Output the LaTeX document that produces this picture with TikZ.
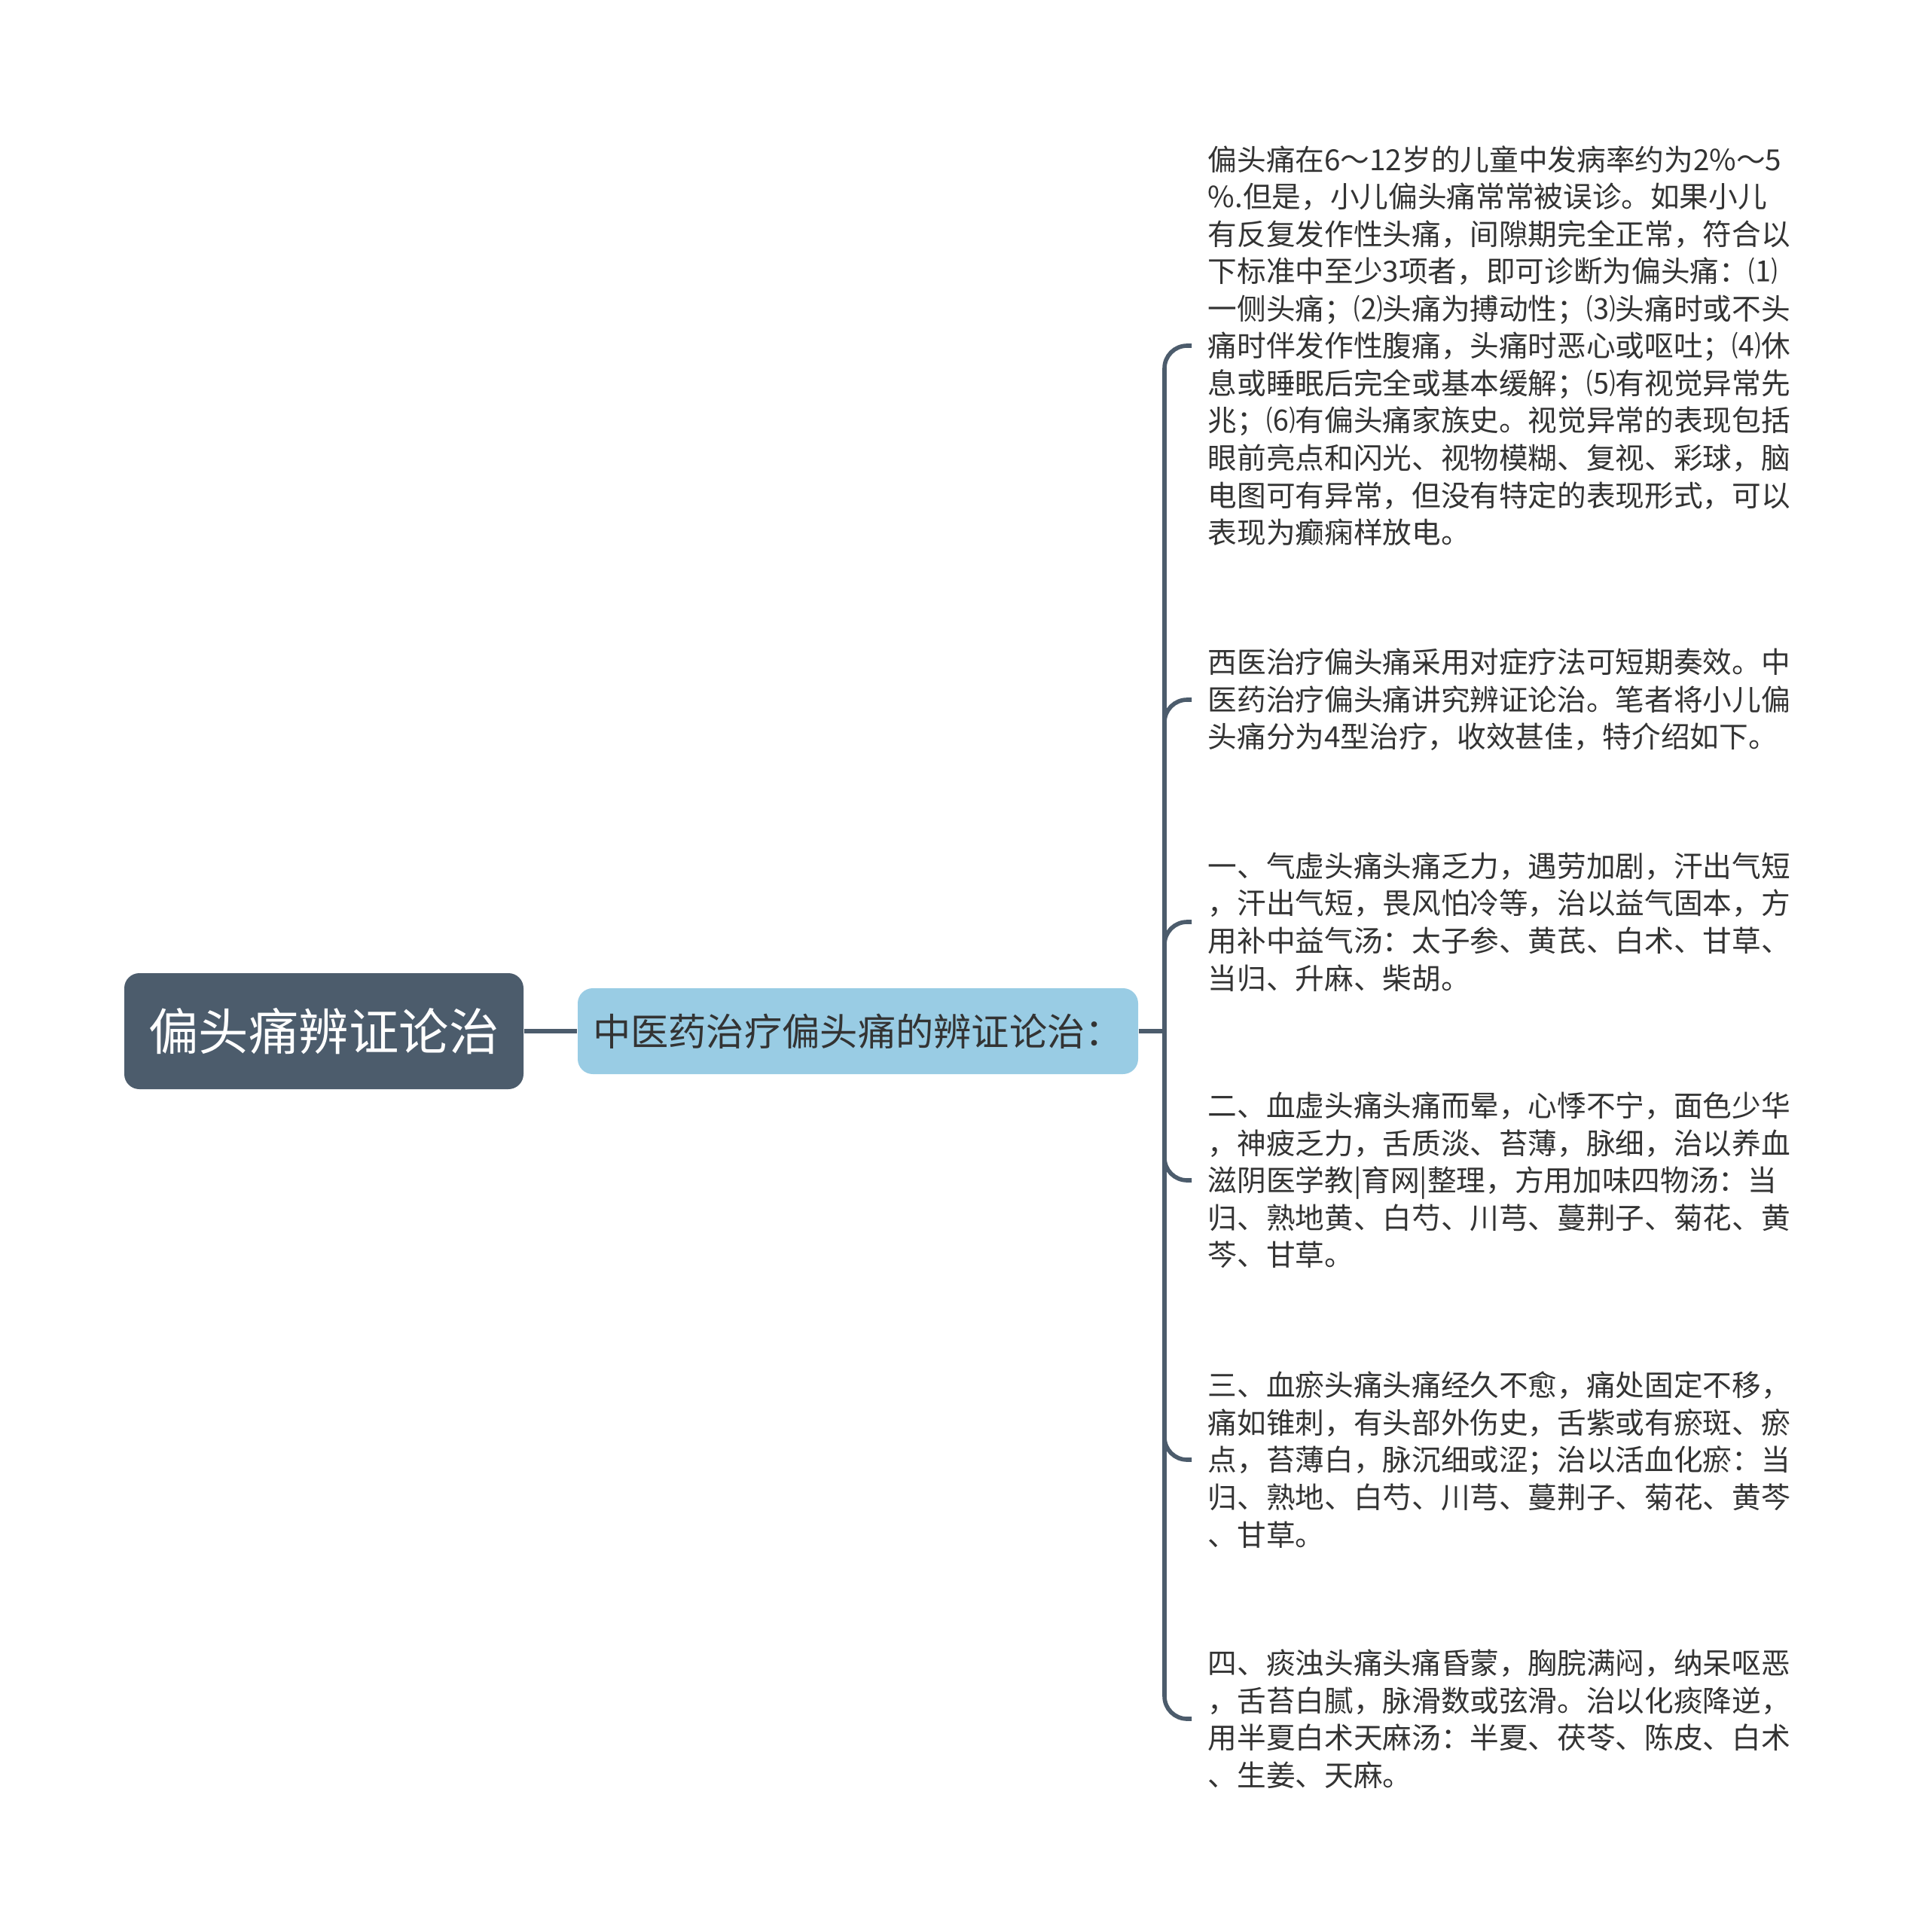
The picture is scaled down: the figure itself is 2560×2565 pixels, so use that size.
\documentclass[tikz,border=0pt]{standalone}
\usepackage{fontspec}
\setmainfont{Noto Sans CJK SC}
\usepackage{xcolor}
\usepackage{tikz}
\usetikzlibrary{positioning,calc}
\definecolor{slate}{RGB}{76,92,108}
\definecolor{skyblue}{RGB}{153,204,228}
\definecolor{inkgray}{RGB}{51,51,51}

\begin{document}
\begin{tikzpicture}[x=0.1mm,y=-0.1mm,
    rootbox/.style={fill=slate, text=white, rounded corners=2mm, minimum width=53mm, minimum height=15.4mm, inner sep=0, font=\fontsize{18.9}{22}\selectfont},
    subbox/.style={fill=skyblue, text=inkgray, rounded corners=2mm, minimum width=74.4mm, minimum height=11.4mm, inner sep=0, font=\fontsize{14.3}{16}\selectfont},
    leaftext/.style={anchor=west, align=left, inner sep=0, text=inkgray, font=\fontsize{11}{14.1}\selectfont},
    link/.style={draw=slate, line width=1.6pt, rounded corners=3mm}]
    \useasboundingbox (0,0) rectangle (2560,2565);

    \node [rootbox] (root) at (430,1369) {偏头痛辨证论治};
    \node [subbox] (tcm) at (1139,1369) {中医药治疗偏头痛的辨证论治：};
    \coordinate (bus) at (1546,1369);

    \node [leaftext] (intro) at (1603,459) {偏头痛在6～12岁的儿童中发病率约为2\%～5\\
        \%.但是，小儿偏头痛常常被误诊。如果小儿\\
        有反复发作性头痛，间隙期完全正常，符合以\\
        下标准中至少3项者，即可诊断为偏头痛：⑴\\
        一侧头痛；⑵头痛为搏动性；⑶头痛时或不头\\
        痛时伴发作性腹痛，头痛时恶心或呕吐；⑷休\\
        息或睡眠后完全或基本缓解；⑸有视觉异常先\\
        兆；⑹有偏头痛家族史。视觉异常的表现包括\\
        眼前亮点和闪光、视物模糊、复视、彩球，脑\\
        电图可有异常，但没有特定的表现形式，可以\\
        表现为癫痫样放电。};
    \node [leaftext] (west) at (1603,929) {西医治疗偏头痛采用对症疗法可短期奏效。中\\
        医药治疗偏头痛讲究辨证论治。笔者将小儿偏\\
        头痛分为4型治疗，收效甚佳，特介绍如下。};
    \node [leaftext] (qixu) at (1603,1224) {一、气虚头痛头痛乏力，遇劳加剧，汗出气短\\
        ，汗出气短，畏风怕冷等，治以益气固本，方\\
        用补中益气汤：太子参、黄芪、白术、甘草、\\
        当归、升麻、柴胡。};
    \node [leaftext] (xuexu) at (1603,1567) {二、血虚头痛头痛而晕，心悸不宁，面色少华\\
        ，神疲乏力，舌质淡、苔薄，脉细，治以养血\\
        滋阴医学教|育网|整理，方用加味四物汤：当\\
        归、熟地黄、白芍、川芎、蔓荆子、菊花、黄\\
        芩、甘草。};
    \node [leaftext] (xueyu) at (1603,1938) {三、血瘀头痛头痛经久不愈，痛处固定不移，\\
        痛如锥刺，有头部外伤史，舌紫或有瘀斑、瘀\\
        点，苔薄白，脉沉细或涩；治以活血化瘀：当\\
        归、熟地、白芍、川芎、蔓荆子、菊花、黄芩\\
        、甘草。};
    \node [leaftext] (tanzhuo) at (1603,2282) {四、痰浊头痛头痛昏蒙，胸脘满闷，纳呆呕恶\\
        ，舌苔白腻，脉滑数或弦滑。治以化痰降逆，\\
        用半夏白术天麻汤：半夏、茯苓、陈皮、白术\\
        、生姜、天麻。};

    % connectors
    \draw [link] (root) -- (tcm);
    \draw [link] (tcm.east) -- (bus);
    \foreach \leaf in {intro,west,qixu,xuexu,xueyu,tanzhuo}
        \draw [link, shorten >=2.1mm] (bus) |- (\leaf.west);
\end{tikzpicture}
\end{document}
